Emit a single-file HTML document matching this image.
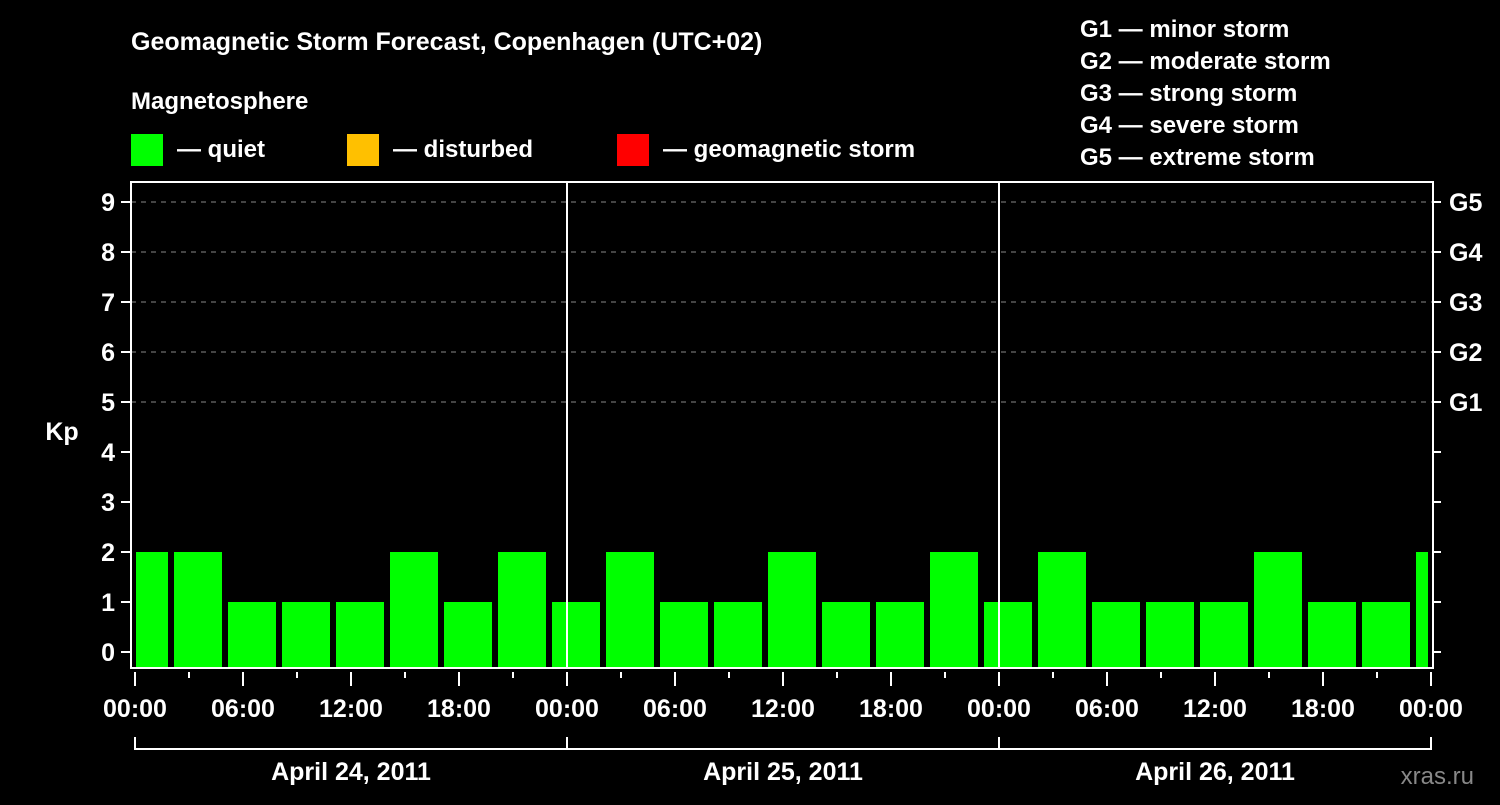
<!DOCTYPE html>
<html><head><meta charset="utf-8"><style>
body{margin:0;background:#000;width:1500px;height:800px;overflow:hidden}
text{font-family:"Liberation Sans",Arial,sans-serif;font-weight:bold;fill:#fff}
</style></head><body>
<svg id="c" width="1500" height="800" xmlns="http://www.w3.org/2000/svg">
<text x="131" y="50" font-size="25">Geomagnetic Storm Forecast, Copenhagen (UTC+02)</text>
<text x="131" y="109" font-size="24">Magnetosphere</text>
<rect x="131" y="134" width="32" height="32" fill="#00ff00"/>
<text x="177" y="157" font-size="24">— quiet</text>
<rect x="347" y="134" width="32" height="32" fill="#ffc000"/>
<text x="393" y="157" font-size="24">— disturbed</text>
<rect x="617" y="134" width="32" height="32" fill="#ff0000"/>
<text x="663" y="157" font-size="24">— geomagnetic storm</text>
<g font-size="24">
<text x="1080" y="37">G1 — minor storm</text>
<text x="1080" y="69">G2 — moderate storm</text>
<text x="1080" y="101">G3 — strong storm</text>
<text x="1080" y="133">G4 — severe storm</text>
<text x="1080" y="165">G5 — extreme storm</text>
</g>
<g id="plot"></g>
<text x="62" y="440" font-size="25" text-anchor="middle">Kp</text>
<text x="1474" y="784" font-size="24" text-anchor="end" fill="#888" style="fill:#888;font-weight:normal">xras.ru</text>
</svg>
<script>
const kpValues=[2,2,1,1,1,2,1,2, 1,2,1,1,2,1,1,2, 1,2,1,1,1,2,1,1, 2];
const barHours=[0.5,3.5,6.5,9.5,12.5,15.5,18.5,21.5,24.5,27.5,30.5,33.5,36.5,39.5,42.5,45.5,48.5,51.5,54.5,57.5,60.5,63.5,66.5,69.5,72.5];
const yTicks=[0,1,2,3,4,5,6,7,8,9];
const gLabels=["G1","G2","G3","G4","G5"];
const xTickLabels=["00:00","06:00","12:00","18:00","00:00","06:00","12:00","18:00","00:00","06:00","12:00","18:00","00:00"];
const dayLabels=["April 24, 2011","April 25, 2011","April 26, 2011"];
const NS="http://www.w3.org/2000/svg";
const X0=135,PX_H=18,L=131,R=1433,T=182,B=668;
const xs=h=>X0+h*PX_H, ys=v=>652-50*v;
const g=document.getElementById('plot');
function mk(t,a,p){const e=document.createElementNS(NS,t);for(const k in a)e.setAttribute(k,a[k]);(p||g).appendChild(e);return e;}
const defs=mk('defs',{});const cp=mk('clipPath',{id:'cl'},defs);mk('rect',{x:136,y:T,width:1292,height:B-T},cp);
yTicks.forEach(v=>{if(v>=5){const l=mk('line',{x1:L,x2:R,y1:ys(v),y2:ys(v),stroke:'#888','stroke-dasharray':'5,5'});

}
const tk=mk('line',{x1:121,x2:L,y1:ys(v),y2:ys(v),stroke:'#fff','stroke-width':2});


const rt=mk('line',{x1:R,x2:1441,y1:ys(v),y2:ys(v),stroke:'#fff','stroke-width':2});


const t=mk('text',{x:115,y:ys(v)+9,'font-size':25,'text-anchor':'end'});t.textContent=v;

});
gLabels.forEach((s,i)=>{const t=mk('text',{x:1449,y:ys(5+i)+9,'font-size':25});t.textContent=s;

});
const bg=mk('g',{'clip-path':'url(#cl)'});
kpValues.forEach((v,i)=>{const b=mk('rect',{x:xs(barHours[i])-24,y:ys(v),width:48,height:B-ys(v),fill:'#00ff00'},bg);

});
[24,48].forEach(h=>{const l=mk('line',{x1:xs(h),x2:xs(h),y1:T,y2:B,stroke:'#fff','stroke-width':2});

});
const fr=mk('rect',{x:L,y:T,width:R-L,height:B-T,fill:'none',stroke:'#fff','stroke-width':2});


for(let h=0;h<=72;h+=3){const maj=h%6===0;const l=mk('line',{x1:xs(h),x2:xs(h),y1:672,y2:maj?686:678,stroke:'#fff','stroke-width':2});

}
xTickLabels.forEach((s,i)=>{const t=mk('text',{x:xs(i*6),y:717,'font-size':25,'text-anchor':'middle'});t.textContent=s;

});
const br=mk('path',{d:`M${xs(0)},737V749H${xs(72)}V737M${xs(24)},737V749M${xs(48)},737V749`,fill:'none',stroke:'#fff','stroke-width':2});


dayLabels.forEach((s,i)=>{const t=mk('text',{x:xs(i*24+12),y:780,'font-size':25,'text-anchor':'middle'});t.textContent=s;

});
</script>
</body></html>
